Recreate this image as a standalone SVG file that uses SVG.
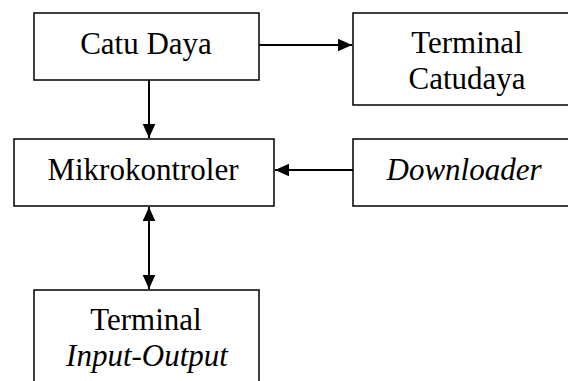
<svg xmlns="http://www.w3.org/2000/svg" width="568" height="381" viewBox="0 0 568 381">
<style>
.box{fill:#fff;stroke:#000;stroke-width:1.5}
.t{font-family:'Liberation Serif','Times New Roman','DejaVu Serif',serif;font-size:31px;fill:#000;text-anchor:middle}
.i{font-style:italic}
.c{stroke:#000;stroke-width:2;fill:none}
</style>
<defs>
<marker id="ah" viewBox="0 0 10 10" refX="10" refY="5" markerWidth="14" markerHeight="14" markerUnits="userSpaceOnUse" orient="auto-start-reverse">
<path d="M0,0.5 L10,5 L0,9.5 Z" fill="#000"/>
</marker>
</defs>
<rect width="568" height="381" fill="#fff"/>
<g id="catu-daya"><rect class="box" x="34" y="13" width="225" height="67"/><text class="t" x="146" y="54" font-family="Liberation Serif, serif">Catu Daya</text></g>
<g id="terminal-catudaya"><rect class="box" x="353" y="13" width="225" height="92"/><text class="t" x="467" y="53" font-family="Liberation Serif, serif">Terminal</text><text class="t" x="467" y="89" font-family="Liberation Serif, serif">Catudaya</text></g>
<g id="mikrokontroler"><rect class="box" x="14" y="139" width="260" height="67"/><text class="t" x="143" y="180" font-family="Liberation Serif, serif">Mikrokontroler</text></g>
<g id="downloader"><rect class="box" x="353" y="139" width="225" height="67"/><text class="t i" x="464" y="180" font-family="Liberation Serif, serif">Downloader</text></g>
<g id="terminal-io"><rect class="box" x="34" y="290" width="225" height="100"/><text class="t" x="146" y="330" font-family="Liberation Serif, serif">Terminal</text><text class="t i" x="147" y="366" font-family="Liberation Serif, serif">Input-Output</text></g>
<g id="connectors">
<path class="c" d="M259,45 L352,45" marker-end="url(#ah)"/>
<path class="c" d="M149,80 L149,138" marker-end="url(#ah)"/>
<path class="c" d="M353,170 L275,170" marker-end="url(#ah)"/>
<path class="c" d="M149,207 L149,289" marker-start="url(#ah)" marker-end="url(#ah)"/>
</g>
</svg>
